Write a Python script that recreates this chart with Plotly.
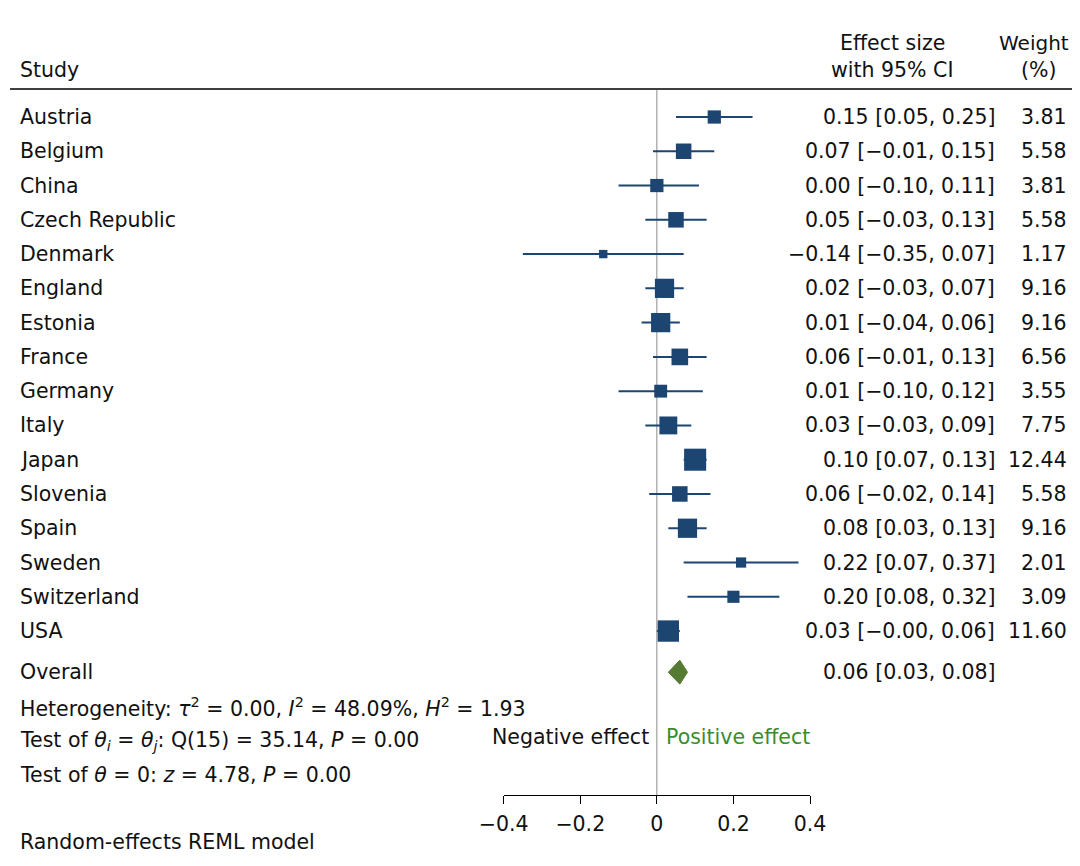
import numpy as np
import plotly.graph_objects as go

# study rows (top to bottom)
studies = ["Austria", "Belgium", "China", "Czech Republic", "Denmark", "England",
           "Estonia", "France", "Germany", "Italy", "Japan", "Slovenia", "Spain",
           "Sweden", "Switzerland", "USA"]
effect = [0.15, 0.07, 0.00, 0.05, -0.14, 0.02, 0.01, 0.06, 0.01, 0.03, 0.10, 0.06, 0.08, 0.22, 0.20, 0.03]
ci_low = [0.05, -0.01, -0.10, -0.03, -0.35, -0.03, -0.04, -0.01, -0.10, -0.03, 0.07, -0.02, 0.03, 0.07, 0.08, -0.0]
ci_high = [0.25, 0.15, 0.11, 0.13, 0.07, 0.07, 0.06, 0.13, 0.12, 0.09, 0.13, 0.14, 0.13, 0.37, 0.32, 0.06]
weights = [3.81, 5.58, 3.81, 5.58, 1.17, 9.16, 9.16, 6.56, 3.55, 7.75, 12.44, 5.58, 9.16, 2.01, 3.09, 11.60]

overall_effect = 0.06
overall_low = 0.03
overall_high = 0.08

tick_vals = [-0.4, -0.2, 0, 0.2, 0.4]
tick_text = ["\u22120.4", "\u22120.2", "0", "0.2", "0.4"]

FONT = "DejaVu Sans"
FS = 20.5
NAVY = "#1c4572"
OLIVE = "#557a32"
GREEN = "#3a8c2c"
ROW_PX = 34.27

# the page body adds an 8px margin, so shift everything by that amount
OFF = 8
W, H = 1080 - 2 * OFF, 866 - 2 * OFF


def px(x):
    return (x - OFF) / W


def py(y):
    return 1 - (y - OFF) / H


def fmt(v):
    return f"{v:.2f}".replace("-", "\u2212")


rows = np.arange(len(studies))
overall_row = 16.2

fig = go.Figure()

# vertical zero line
fig.add_trace(go.Scatter(x=[0, 0], y=[-0.79, 19.8], mode="lines",
                         line=dict(color="#8c8c8c", width=1), hoverinfo="skip"))

# confidence intervals
for i in rows:
    fig.add_trace(go.Scatter(x=[ci_low[i], ci_high[i]], y=[i, i], mode="lines",
                             line=dict(color=NAVY, width=2), hoverinfo="skip"))

# study point estimates, box size by weight
fig.add_trace(go.Scatter(
    x=effect, y=rows, mode="markers",
    marker=dict(symbol="square", color=NAVY, opacity=1,
                size=[2.3 + 5.6 * np.sqrt(w) for w in weights], line=dict(width=0)),
    cliponaxis=False, hoverinfo="skip"))

# overall diamond
h = 0.35
fig.add_trace(go.Scatter(
    x=[overall_low, overall_effect, overall_high, overall_effect, overall_low],
    y=[overall_row, overall_row - h, overall_row, overall_row + h, overall_row],
    mode="lines", fill="toself", fillcolor=OLIVE, line=dict(color=OLIVE, width=1),
    hoverinfo="skip"))

ann = []
tf = dict(family=FONT, size=FS, color="#111111")

# left labels, effect column, weight column
for i in rows:
    ann.append(dict(x=px(18), xref="paper", y=i, yref="y", text=studies[i],
                    xanchor="left", yanchor="middle", showarrow=False, font=tf))
    ann.append(dict(x=px(997), xref="paper", y=i, yref="y",
                    text=f"{fmt(effect[i])} [{fmt(ci_low[i])}, {fmt(ci_high[i])}]",
                    xanchor="right", yanchor="middle", showarrow=False, font=tf))
    ann.append(dict(x=px(1069), xref="paper", y=i, yref="y", text=f"{weights[i]:.2f}",
                    xanchor="right", yanchor="middle", showarrow=False, font=tf))

ann.append(dict(x=px(18), xref="paper", y=overall_row, yref="y", text="Overall",
                xanchor="left", yanchor="middle", showarrow=False, font=tf))
ann.append(dict(x=px(997), xref="paper", y=overall_row, yref="y",
                text=f"{fmt(overall_effect)} [{fmt(overall_low)}, {fmt(overall_high)}]",
                xanchor="right", yanchor="middle", showarrow=False, font=tf))


# headers and notes in pixel-based paper coordinates
def paper_text(x, y, text, anchor="left", color="#111111", size=FS):
    ann.append(dict(x=px(x), xref="paper", y=py(y), yref="paper", text=text,
                    xanchor=anchor, yanchor="middle", showarrow=False,
                    font=dict(family=FONT, size=size, color=color)))


paper_text(18, 70, "Study")
paper_text(892, 43, "Effect size", "center")
paper_text(892, 70, "with 95% CI", "center")
paper_text(1071, 43, "Weight", "right", size=20)
paper_text(1038, 70, "(%)", "center")

paper_text(18, 707, "Heterogeneity: <i>\u03c4</i><sup>2</sup> = 0.00, <i>I</i><sup>2</sup> = 48.09%, "
                    "<i>H</i><sup>2</sup> = 1.93")
paper_text(18, 741, "Test of <i>\u03b8</i><sub><i>i</i></sub> = <i>\u03b8</i><sub><i>j</i></sub>: "
                    "Q(15) = 35.14, <i>P</i> = 0.00")
paper_text(18, 775, "Test of <i>\u03b8</i> = 0: <i>z</i> = 4.78, <i>P</i> = 0.00")
paper_text(18, 842, "Random-effects REML model")
paper_text(651, 737, "Negative effect", "right")
paper_text(664, 737, "Positive effect", "left", GREEN)

fig.update_layout(
    template="none",
    width=W, height=H,
    margin=dict(l=0, r=0, t=0, b=0, pad=0),
    paper_bgcolor="white", plot_bgcolor="white",
    showlegend=False,
    font=dict(family=FONT, size=FS, color="#111111"),
    annotations=ann,
    shapes=[dict(type="line", xref="paper", yref="paper", x0=px(10), x1=px(1072),
                 y0=py(89), y1=py(89), line=dict(color="black", width=1.5))],
    xaxis=dict(domain=[px(503.7), px(810)], range=[-0.4, 0.4], automargin=False,
               tickvals=tick_vals, ticktext=tick_text, ticks="outside", ticklen=8,
               ticklabelstandoff=2,
               tickcolor="black", showline=True, linecolor="black", linewidth=1,
               showgrid=False, zeroline=False, tickfont=dict(family=FONT, size=FS)),
    yaxis=dict(domain=[py(795), 1], range=[(795 - 117) / ROW_PX, (OFF - 117) / ROW_PX],
               automargin=False, visible=False, showgrid=False, zeroline=False),
)

fig.write_html("out.html")
